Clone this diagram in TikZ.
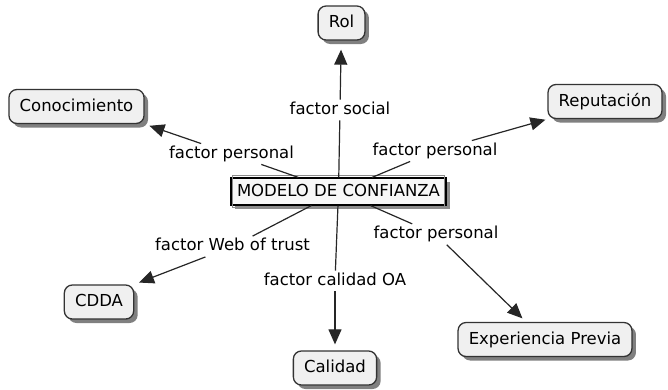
\documentclass[tikz,border=0pt]{standalone}
\usepackage{fontspec}
\setmainfont{DejaVu Sans}
\usetikzlibrary{arrows.meta,shadows}
\begin{document}
\begin{tikzpicture}[x=1pt,y=-1pt,
  font=\fontsize{16.5}{19}\selectfont,
  concept/.style={draw=black!80, line width=1.3pt, rounded corners=8pt, fill=black!6,
    inner xsep=10.7pt, inner ysep=0pt, minimum height=34pt, text height=12.5pt, text depth=3.5pt,
    drop shadow={shadow xshift=4pt, shadow yshift=-4pt, fill=black!50, opacity=1}},
  mainbox/.style={draw=black, line width=1.1pt,
    fill=black!3, inner xsep=6pt, inner ysep=0pt, minimum height=27pt,
    text height=12.5pt, text depth=3.5pt,
    drop shadow={shadow xshift=4pt, shadow yshift=-4pt, fill=black!45, opacity=1}},
  innerline/.style={draw=black!45, line width=0.6pt},
  lab/.style={inner xsep=1pt, inner ysep=2pt, text height=12.5pt, text depth=4pt},
  ln/.style={draw=black!85, line width=1.2pt},
  arr/.style={ln, -{Triangle[length=15pt,width=13pt]}}
]
\useasboundingbox (0,0) rectangle (668,389);
\node[mainbox] (main) at (338.5,191.5) {MODELO DE CONFIANZA};
\draw[innerline] ([shift={(2pt,-2pt)}]main.south west) rectangle ([shift={(-2pt,2pt)}]main.north east);
\node[concept] (rol) at (341.5,23) {Rol};
\node[concept] (conoc) at (76.5,106.5) {Conocimiento};
\node[concept] (rep) at (605,101.5) {Reputación};
\node[concept] (cdda) at (99,302) {CDDA};
\node[concept] (cal) at (335,368) {Calidad};
\node[concept] (exp) at (545,339.5) {Experiencia Previa};
\node[lab] (lsoc) at (340,110) {factor social};
\node[lab] (lpl) at (231.5,154) {factor personal};
\node[lab] (lpr) at (435,151) {factor personal};
\node[lab] (lweb) at (232.5,246.5) {factor Web of trust};
\node[lab] (lplr) at (436,234.3) {factor personal};
\node[lab] (loa) at (335,281) {factor calidad OA};
\draw[ln] (main) -- (lsoc);
\draw[arr, shorten >=9pt] (lsoc) -- (rol);
\draw[ln] (main) -- (lpl);
\draw[arr, shorten >=5pt] (lpl) -- (conoc.south east);
\draw[ln] (main) -- (lpr);
\draw[arr, shorten >=2pt] (lpr) -- (rep.south west);
\draw[ln] (main) -- (lweb);
\draw[arr, shorten >=5pt] (lweb) -- (cdda.north east);
\draw[ln] (main) -- (loa);
\draw[arr, shorten >=6pt] (loa) -- (cal);
\draw[ln] (main) -- (lplr);
\draw[arr, shorten >=5pt] (lplr) -- ([xshift=-19pt]exp.north);
\end{tikzpicture}
\end{document}
